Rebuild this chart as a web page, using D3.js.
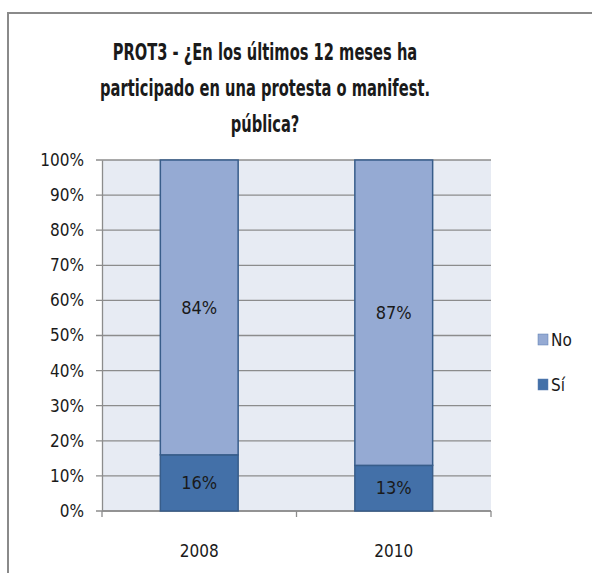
<!DOCTYPE html>
<html>
<head>
<meta charset="utf-8">
<style>
  body { margin: 0; background: #fff; }
  svg text { font-family: "DejaVu Sans Condensed", "DejaVu Sans", sans-serif; font-stretch: condensed; fill: #1a1a1a; }
  .grid line { stroke: #8c8c8c; stroke-width: 1.3; }
</style>
</head>
<body>
<svg width="592" height="573"></svg>
<script src="https://cdn.jsdelivr.net/npm/d3@7"></script>
<script>
// datos
var years = ["2008", "2010"];
var series = ["Sí", "No"];
var si = [16, 13];
var no = [84, 87];
var yTicks = [0, 10, 20, 30, 40, 50, 60, 70, 80, 90, 100];
var titleLines = ["PROT3 - ¿En los últimos 12 meses ha", "participado en una protesta o manifest.", "pública?"];
var colors = { "Sí": "#4370a8", "No": "#95aad3" };

var svg = d3.select("svg");

// marco exterior
svg.append("rect")
  .attr("x", 8).attr("y", 13)
  .attr("width", 600).attr("height", 600)
  .attr("fill", "none").attr("stroke", "#8a8a8a").attr("stroke-width", 2);

// titulo (estrechado para parecerse a Calibri)
var title = svg.append("g").selectAll("text")
  .data(titleLines).enter().append("text")
  .attr("x", 265)
  .attr("y", function(d, i) { return 60 + i * 36; })
  .attr("text-anchor", "middle")
  .style("font-size", "23px")
  .style("font-weight", "bold")
  .text(function(d) { return d; });
var ratio = 330 / title.nodes()[1].getComputedTextLength();
title.each(function() {
  var w = this.getComputedTextLength();
  d3.select(this).attr("textLength", w * ratio).attr("lengthAdjust", "spacingAndGlyphs");
});

var pLeft = 102, pRight = 491, pTop = 160, pBottom = 511;

var x = d3.scaleBand().domain(years).range([pLeft, pRight]).paddingInner(0.6).paddingOuter(0.3);
var y = d3.scaleLinear().domain([0, 100]).range([pBottom, pTop]);

// fondo del area de trazado
svg.append("rect")
  .attr("x", pLeft).attr("y", pTop)
  .attr("width", pRight - pLeft).attr("height", pBottom - pTop)
  .attr("fill", "#e7ebf3");

// lineas de cuadricula
svg.append("g").attr("class", "grid")
  .selectAll("line").data(yTicks).enter().append("line")
  .attr("x1", pLeft - 6).attr("x2", pRight)
  .attr("y1", function(d) { return y(d); })
  .attr("y2", function(d) { return y(d); });

// eje y
var yAxis = d3.axisLeft(y).tickValues(yTicks).tickSize(0).tickPadding(18)
  .tickFormat(function(d) { return d + "%"; });
var gy = svg.append("g").attr("transform", "translate(" + pLeft + ",0)").call(yAxis);
gy.select(".domain").attr("stroke", "#8c8c8c").attr("stroke-width", 1.3);
gy.attr("font-family", null);
gy.selectAll("text").style("font-size", "17px").attr("fill", "#1a1a1a");

// eje x
svg.append("line").attr("x1", pLeft).attr("x2", pRight).attr("y1", pBottom).attr("y2", pBottom)
  .attr("stroke", "#8c8c8c").attr("stroke-width", 1.3);
var xEdges = [pLeft, (pLeft + pRight) / 2, pRight];
svg.append("g").selectAll("line").data(xEdges).enter().append("line")
  .attr("x1", function(d) { return d; }).attr("x2", function(d) { return d; })
  .attr("y1", pBottom).attr("y2", pBottom + 6)
  .attr("stroke", "#8c8c8c").attr("stroke-width", 1.3);
svg.append("g").selectAll("text").data(years).enter().append("text")
  .attr("x", function(d) { return x(d) + x.bandwidth() / 2; })
  .attr("y", 557)
  .attr("text-anchor", "middle")
  .style("font-size", "17px")
  .text(function(d) { return d; });

// barras apiladas
var rows = years.map(function(yr, i) { return { year: yr, "Sí": si[i], "No": no[i] }; });
var stack = d3.stack().keys(series)(rows);

var layer = svg.append("g").selectAll("g").data(stack).enter().append("g")
  .attr("fill", function(d) { return colors[d.key]; });

layer.selectAll("rect").data(function(d) { return d; }).enter().append("rect")
  .attr("x", function(d) { return x(d.data.year); })
  .attr("width", x.bandwidth())
  .attr("y", function(d) { return y(d[1]); })
  .attr("height", function(d) { return y(d[0]) - y(d[1]); })
  .attr("stroke", "#385d8a").attr("stroke-width", 1.5);

layer.selectAll("text").data(function(d) { return d; }).enter().append("text")
  .attr("x", function(d) { return x(d.data.year) + x.bandwidth() / 2; })
  .attr("y", function(d) { return (y(d[0]) + y(d[1])) / 2; })
  .attr("dy", "0.35em")
  .attr("text-anchor", "middle")
  .style("font-size", "18px")
  .text(function(d) { return (d[1] - d[0]) + "%"; });

// leyenda
var legendItems = ["No", "Sí"];
var lg = svg.append("g").selectAll("g").data(legendItems).enter().append("g")
  .attr("transform", function(d, i) { return "translate(538," + (334 + i * 45) + ")"; });
lg.append("rect").attr("width", 10).attr("height", 11)
  .attr("fill", function(d) { return colors[d]; })
  .attr("stroke", "#5a7bb0").attr("stroke-width", 0.5);
lg.append("text").attr("x", 13).attr("y", 6).attr("dy", "0.35em")
  .style("font-size", "17px")
  .text(function(d) { return d; });
</script>
</body>
</html>
